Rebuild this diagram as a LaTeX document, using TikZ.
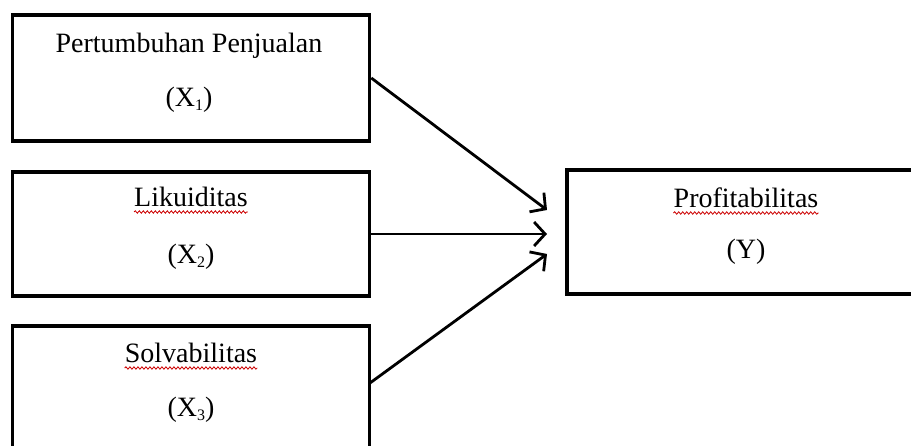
\documentclass[tikz,border=0pt]{standalone}
\usepackage{fontspec}
\setmainfont{Liberation Serif}
\usetikzlibrary{arrows.meta,decorations.pathmorphing}
\tikzset{
  boxnode/.style={draw=black, line width=3.5pt, rectangle, inner sep=0pt},
  lbl/.style={inner sep=0pt, font=\fontsize{28}{33}\selectfont},
  conn/.style={line width=2.8pt, -{Straight Barb[length=11pt,width=24pt,line width=2.8pt]}},
  squiggle/.style={draw=red!80!black, line width=0.8pt, decorate, decoration={snake, amplitude=1.2pt, segment length=4pt}}
}
\newcommand{\subx}[1]{\raisebox{-0.12em}{\fontsize{16}{18}\selectfont #1}}
\begin{document}
\begin{tikzpicture}[x=1pt,y=-1pt]
\useasboundingbox (0,0) rectangle (911,446);
\begin{scope}
\clip (0,0) rectangle (911,446);
\node[boxnode, minimum width=357pt, minimum height=126pt] (b1) at (191,78) {};
\node[boxnode, minimum width=357pt, minimum height=124pt] (b2) at (191,234) {};
\node[boxnode, minimum width=357pt, minimum height=140pt] (b3) at (191,396) {};
\node[boxnode, minimum width=400pt, minimum height=124pt] (by) at (767,232) {};
\end{scope}
% texts
\node[lbl, anchor=base] (t1) at (189,53) {Pertumbuhan Penjualan};
\node[lbl] (t1s) at (189,100) {(X\subx{1})};
\node[lbl, anchor=base] (t2) at (191,207) {Likuiditas};
\node[lbl] (t2s) at (191,257) {(X\subx{2})};
\node[lbl, anchor=base] (t3) at (191,363) {Solvabilitas};
\node[lbl] (t3s) at (191,410) {(X\subx{3})};
\node[lbl, anchor=base] (ty) at (746,208) {Profitabilitas};
\node[lbl] (tys) at (746,252) {(Y)};
% spell-check squiggles
\draw[squiggle] ([yshift=-5pt]t2.base west) -- ([yshift=-5pt]t2.base east);
\draw[squiggle] ([yshift=-5pt]t3.base west) -- ([yshift=-5pt]t3.base east);
\draw[squiggle] ([yshift=-5pt]ty.base west) -- ([yshift=-5pt]ty.base east);
% arrows
\coordinate (e1) at (547,210);
\coordinate (e2) at (547,234);
\coordinate (e3) at (547,254);
\coordinate (s1) at (b1.east);
\coordinate (s3) at (370,383);
\draw[conn] (s1) -- (e1);
\draw[conn] (b2.east) -- (e2);
\draw[conn] (s3) -- (e3);
\end{tikzpicture}
\end{document}
